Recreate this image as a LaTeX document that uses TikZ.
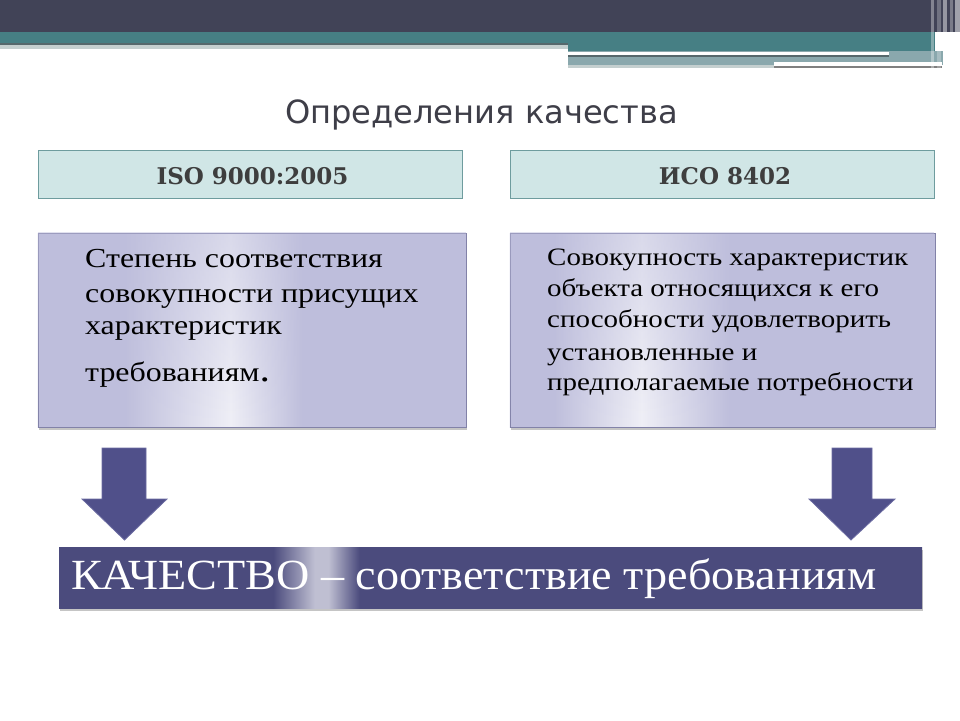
\documentclass[tikz,border=0pt]{standalone}
\usepackage{fontspec}
\setmainfont{Liberation Serif}
\newfontfamily\titlefont{DejaVu Sans}
\newfontfamily\bodyfont[FakeStretch=1.16]{Liberation Serif}
\newfontfamily\headfont{DejaVu Serif}
\usetikzlibrary{shadows,fadings}
\definecolor{topdark}{HTML}{414357}
\definecolor{teal}{HTML}{467F84}
\definecolor{teallight}{HTML}{8AA8AD}
\definecolor{tealline}{HTML}{56686C}
\definecolor{palegray}{HTML}{C4CFCF}
\definecolor{titlegray}{HTML}{3E3E48}
\definecolor{headfill}{HTML}{D0E6E6}
\definecolor{headdraw}{HTML}{6E9C9E}
\definecolor{headtext}{HTML}{3E3E3E}
\definecolor{lavA}{RGB}{190,190,220}
\definecolor{lavW}{RGB}{240,240,247}
\definecolor{lavdraw}{HTML}{8282A8}
\definecolor{barfill}{HTML}{4B4B7D}
\definecolor{barhi}{HTML}{BFBFD2}
\definecolor{arrowfill}{HTML}{50508A}
\definecolor{arrowdraw}{HTML}{6C6CA2}
\pgfdeclarehorizontalshading{lavshadeL}{100bp}{color(0bp)=(lavA); color(35bp)=(lavA); color(47.5bp)=(lavW); color(56bp)=(lavA); color(100bp)=(lavA)}
\pgfdeclarehorizontalshading{lavshadeR}{100bp}{color(0bp)=(lavA); color(30bp)=(lavA); color(40.5bp)=(lavW); color(51bp)=(lavA); color(100bp)=(lavA)}
\pgfdeclarehorizontalshading{barshade}{100bp}{color(0bp)=(barfill); color(37.4bp)=(barfill); color(39.8bp)=(barhi); color(40.6bp)=(barhi); color(42.4bp)=(barfill); color(100bp)=(barfill)}
\tikzfading[name=topveil, top color=transparent!55, bottom color=transparent!100]
\tikzset{
  headbox/.style={draw=headdraw, line width=1.2pt, fill=headfill, minimum width=424pt, minimum height=48pt, anchor=north west, inner sep=0pt},
  headtxt/.style={text=headtext, font=\headfont\bfseries\fontsize{23}{23}\selectfont, anchor=base, inner sep=0pt},
  contentbox/.style={draw=lavdraw, line width=0.8pt, minimum width=428pt, minimum height=194pt, anchor=north west, inner sep=0pt,
    drop shadow={shadow xshift=1pt, shadow yshift=-2.5pt, opacity=0.45, fill=gray}},
  veil/.style={fill=lavA, path fading=topveil},
  ltxt/.style={anchor=base west, inner sep=0pt, font=\bodyfont\fontsize{27.5}{27.5}\selectfont, text=black},
  rtxt/.style={anchor=base west, inner sep=0pt, font=\bodyfont\fontsize{25}{25}\selectfont, text=black},
  blockarrow/.style={fill=arrowfill, draw=arrowdraw, line width=0.8pt},
  qualbar/.style={shading=barshade, minimum width=863pt, minimum height=61pt, anchor=north west, inner sep=0pt,
    drop shadow={shadow xshift=1pt, shadow yshift=-2.5pt, opacity=0.45, fill=gray}},
}
\begin{document}
\begin{tikzpicture}[x=1pt,y=-1pt]
\useasboundingbox (0,0) rectangle (960,720);
\fill[white] (0,0) rectangle (960,720);
% top decoration
\fill[topdark] (0,0) rectangle (960,32);
\fill[teal] (0,32) rectangle (568,42.7);
\fill[tealline] (0,42.7) rectangle (568,45.3);
\fill[palegray] (0,45.3) rectangle (568,49);
\fill[teal] (568,32) rectangle (935,50.7);
\fill[teallight] (568,50.7) rectangle (943,65);
\fill[white] (568,52) rectangle (889,54.7);
\fill[tealline] (568,54.7) rectangle (889,57.3);
\fill[palegray] (568,65) rectangle (774,68);
\fill[white] (774,61.7) rectangle (942,65);
\fill[gray] (774,65.7) rectangle (942,67.7);
\fill[white, opacity=0.35] (931,0) rectangle (934,68);
\fill[white, opacity=0.25] (937,0) rectangle (941,68);
\fill[white, opacity=0.45] (943,0) rectangle (947,68);
\fill[white, opacity=0.3] (950,0) rectangle (953,68);
\fill[white, opacity=0.5] (955,0) rectangle (960,68);
% title
\node[text=titlegray, anchor=base, inner sep=0pt] (title) at (481.5,123) {\resizebox{393pt}{\height}{\titlefont\fontsize{32}{32}\selectfont Определения качества}};
% headers
\node[headbox] (headL) at (37.5,150) {};
\node[headbox] (headR) at (509.5,150) {};
\node[headtxt] (headLtxt) at (252.5,184) {ISO 9000:2005};
\node[headtxt] (headRtxt) at (725,184) {ИСО 8402};
% content boxes
\node[contentbox, shading=lavshadeL] (boxL) at (37.5,233) {};
\node[contentbox, shading=lavshadeR, minimum width=425pt] (boxR) at (509.5,233) {};
\fill[veil] ([shift={(0.5,-0.5)}]boxL.north west) rectangle ([shift={(-0.5,0.5)}]boxL.south east);
\fill[veil] ([shift={(0.5,-0.5)}]boxR.north west) rectangle ([shift={(-0.5,0.5)}]boxR.south east);
\node[ltxt] (l1) at (85,267.7) {Степень соответствия};
\node[ltxt] (l2) at (85,302) {совокупности присущих};
\node[ltxt] (l3) at (85,334) {характеристик};
\node[ltxt] (l4) at (85,381.7) {требованиям\fontsize{36}{36}\selectfont.};
\node[rtxt] (r1) at (547,265) {Совокупность характеристик};
\node[rtxt] (r2) at (547,296) {объекта относящихся к его};
\node[rtxt] (r3) at (547,327) {способности удовлетворить};
\node[rtxt] (r4) at (547,360) {установленные и};
\node[rtxt] (r5) at (547,390.7) {предполагаемые потребности};
% arrows
\draw[blockarrow] (102,448) -- (146,448) -- (146,499) -- (167,499) -- (124.5,540) -- (82,499) -- (102,499) -- cycle;
\draw[blockarrow] (832,448) -- (872,448) -- (872,499) -- (895,499) -- (851,540) -- (809,499) -- (832,499) -- cycle;
% quality bar
\node[qualbar] (bar) at (59,547) {};
\node[anchor=base west, inner sep=0pt, text=white] (qual) at (71,589) {\resizebox{805pt}{\height}{\fontsize{43}{43}\selectfont КАЧЕСТВО – соответствие требованиям}};
\end{tikzpicture}
\end{document}
